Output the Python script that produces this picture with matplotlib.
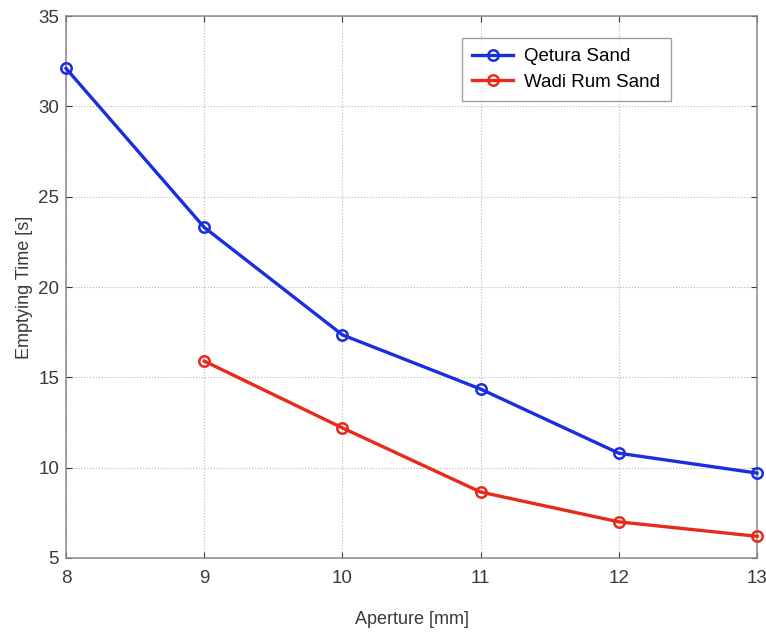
import matplotlib
matplotlib.use("Agg")
import matplotlib.pyplot as plt

plt.rcParams['font.family'] = ['Liberation Sans', 'DejaVu Sans']

# 데이터
aperture = [8, 9, 10, 11, 12, 13]
qetura = [32.1, 23.3, 17.35, 14.35, 10.8, 9.7]
aperture_wadi = [9, 10, 11, 12, 13]
wadi_rum = [15.9, 12.2, 8.65, 7.0, 6.2]

fig = plt.figure(figsize=(7.66, 6.33), dpi=100)
ax = fig.add_axes([0.0862, 0.1185, 0.9021, 0.8562])

ax.plot(aperture, qetura, color='#1a2ee0', lw=2.4, marker='o', ms=7.5,
        mfc='none', mew=1.8, label='Qetura Sand', clip_on=False, zorder=3)
ax.plot(aperture_wadi, wadi_rum, color='#e8291c', lw=2.4, marker='o', ms=7.5,
        mfc='none', mew=1.8, label='Wadi Rum Sand', clip_on=False, zorder=3)

ax.set_xlim(8, 13)
ax.set_ylim(5, 35)
ax.set_xticks(aperture)
ax.set_yticks([5, 10, 15, 20, 25, 30, 35])
ax.tick_params(direction='in', labelsize=13.5, colors='#3a3a3a', length=4,
               top=True, right=True)
ax.tick_params(axis='x', pad=9)
ax.tick_params(axis='y', pad=5)
ax.grid(True, ls=':', color='#b8b8b8', lw=0.8)
for s in ax.spines.values():
    s.set_color('#888888')
    s.set_linewidth(1.1)

ax.set_xlabel('Aperture [mm]', fontsize=13, color='#3a3a3a', labelpad=17)
ax.set_ylabel('Emptying Time [s]', fontsize=13, color='#3a3a3a', labelpad=4)

leg = ax.legend(loc='upper left', bbox_to_anchor=(0.559, 0.977), fontsize=13.5,
                fancybox=False, edgecolor='#888888', handlelength=2.2,
                borderpad=0.55, labelspacing=0.45, handletextpad=0.6)
leg.get_frame().set_linewidth(1.0)

fig.savefig('out.png', dpi=100)
